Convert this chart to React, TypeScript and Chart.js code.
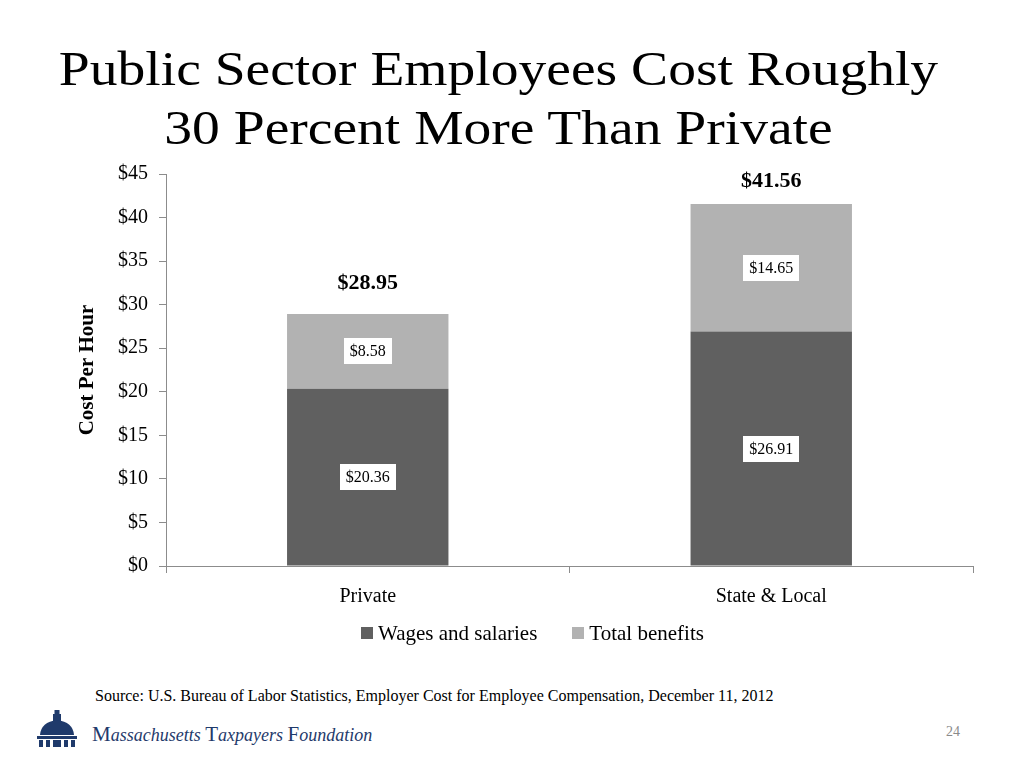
import React, { useEffect, useRef } from "react";
import { Chart, registerables } from "chart.js";

Chart.register(...registerables);

const categories = ["Private", "State & Local"];
const wagesAndSalaries = [20.36, 26.91];
const totalBenefits = [8.58, 14.65];
const totals = [28.95, 41.56];
const yMin = 0;
const yMax = 45;
const yStep = 5;

const SERIF =
  '"Palatino Linotype","Book Antiqua",Palatino,"Liberation Serif","Times New Roman",serif';
const DARK = "#606060";
const LIGHT = "#b2b2b2";
const AXIS = "#8c8c8c";
const NAVY = "#1f3a6b";

const totalOffsets = [31, 23];

const labelPlugin = {
  id: "barLabels",
  afterDatasetsDraw(chart: any) {
    const ctx = chart.ctx as CanvasRenderingContext2D;
    ctx.save();
    ctx.textAlign = "center";
    ctx.textBaseline = "middle";
    chart.data.datasets.forEach((ds: any, di: number) => {
      const meta = chart.getDatasetMeta(di);
      meta.data.forEach((bar: any, i: number) => {
        const v = ds.data[i] as number;
        const text = "$" + v.toFixed(2);
        const cy = (bar.y + bar.base) / 2;
        ctx.font = `16px ${SERIF}`;
        const w = ctx.measureText(text).width;
        ctx.fillStyle = "#ffffff";
        ctx.fillRect(Math.round(bar.x - w / 2 - 6), Math.round(cy - 13), Math.round(w + 12), 26);
        ctx.fillStyle = "#000000";
        ctx.fillText(text, bar.x, cy + 1);
      });
    });
    const topMeta = chart.getDatasetMeta(chart.data.datasets.length - 1);
    topMeta.data.forEach((bar: any, i: number) => {
      ctx.font = `bold 22px ${SERIF}`;
      ctx.fillStyle = "#000000";
      const y = chart.scales.y.getPixelForValue(totals[i]) - totalOffsets[i];
      ctx.fillText("$" + totals[i].toFixed(2), bar.x, y);
    });
    ctx.restore();
  },
};

const legendPlugin = {
  id: "customLegend",
  afterDraw(chart: any) {
    const ctx = chart.ctx as CanvasRenderingContext2D;
    const centerX = 462.5;
    const centerY = 483;
    const box = 12;
    const gapText = 5;
    const gapItem = 35;
    ctx.save();
    ctx.font = `21px ${SERIF}`;
    ctx.textBaseline = "middle";
    ctx.textAlign = "left";
    const items = chart.data.datasets.map((ds: any) => ({
      label: ds.label as string,
      color: ds.backgroundColor as string,
      w: ctx.measureText(ds.label).width,
    }));
    const total =
      items.reduce((s: number, it: any) => s + box + gapText + it.w, 0) + gapItem * (items.length - 1);
    let x = centerX - total / 2;
    items.forEach((it: any) => {
      ctx.fillStyle = it.color;
      ctx.fillRect(Math.round(x), Math.round(centerY - box / 2), box, box);
      ctx.fillStyle = "#000";
      ctx.fillText(it.label, x + box + gapText, centerY + 1);
      x += box + gapText + it.w + gapItem;
    });
    ctx.restore();
  },
};

function ChartCanvas() {
  const ref = useRef<HTMLCanvasElement | null>(null);
  useEffect(() => {
    if (!ref.current) return;
    const chart = new Chart(ref.current, {
      type: "bar",
      data: {
        labels: categories,
        datasets: [
          {
            label: "Wages and salaries",
            data: wagesAndSalaries,
            backgroundColor: DARK,
            borderWidth: 0,
            barPercentage: 0.4,
            categoryPercentage: 1.0,
          },
          {
            label: "Total benefits",
            data: totalBenefits,
            backgroundColor: LIGHT,
            borderWidth: 0,
            barPercentage: 0.4,
            categoryPercentage: 1.0,
          },
        ],
      },
      options: {
        responsive: false,
        animation: false,
        layout: { padding: { top: 24, right: 21, bottom: 49, left: 0 } },
        plugins: {
          legend: { display: false },
          tooltip: { enabled: false },
          title: { display: false },
        },
        scales: {
          x: {
            stacked: true,
            grid: {
              display: true,
              drawOnChartArea: false,
              drawTicks: true,
              tickLength: 7,
              color: AXIS,
              offset: true,
            },
            border: { display: true, color: AXIS, width: 1 },
            ticks: {
              color: "#000",
              padding: 12,
              font: { family: SERIF, size: 20 },
            },
          },
          y: {
            stacked: true,
            min: yMin,
            max: yMax,
            afterFit: (scale: any) => {
              scale.width = 96;
            },
            grid: {
              display: true,
              drawOnChartArea: false,
              drawTicks: true,
              tickLength: 7,
              color: AXIS,
            },
            border: { display: true, color: AXIS, width: 1 },
            ticks: {
              stepSize: yStep,
              color: "#000",
              padding: 11,
              font: { family: SERIF, size: 20 },
              callback: (v: any) => "$" + v,
            },
            title: {
              display: true,
              text: "Cost Per Hour",
              color: "#000",
              padding: { top: 5, bottom: 0 },
              font: { family: SERIF, size: 21, weight: "bold" },
            },
          },
        },
      },
      plugins: [labelPlugin, legendPlugin],
    });
    return () => chart.destroy();
  }, []);
  return (
    <canvas
      ref={ref}
      width={924}
      height={520}
      style={{ position: "absolute", left: 70, top: 150, width: 924, height: 520 }}
    />
  );
}

function Dome() {
  return (
    <svg width="44" height="38" viewBox="0 0 44 38" style={{ position: "absolute", left: 35, top: 710 }}>
      <g fill={NAVY}>
        <rect x="19.5" y="0" width="5" height="4" />
        <rect x="18" y="4" width="8" height="7" />
        <path d="M5 25 Q6 12 22 10 Q38 12 39 25 Z" />
        <rect x="2" y="26" width="40" height="3" />
        <rect x="4" y="30" width="4" height="7" />
        <rect x="11" y="30" width="4" height="7" />
        <rect x="18" y="30" width="8" height="7" />
        <rect x="29" y="30" width="4" height="7" />
        <rect x="36" y="30" width="4" height="7" />
      </g>
    </svg>
  );
}

export default function App() {
  const logoCap: React.CSSProperties = { fontStyle: "normal", fontSize: 21 };
  const titleLine: React.CSSProperties = {
    width: 997,
    textAlign: "center",
    transform: "scaleX(1.157)",
    transformOrigin: "498.5px 50%",
    whiteSpace: "nowrap",
  };
  return (
    <div
      style={{
        position: "fixed",
        left: 0,
        top: 0,
        width: 1024,
        height: 768,
        background: "#fff",
        fontFamily: SERIF,
        overflow: "hidden",
      }}
    >
      <div
        style={{
          position: "absolute",
          left: 0,
          top: 39,
          width: 997,
          fontSize: 48,
          lineHeight: "59px",
          color: "#000",
        }}
      >
        <div style={titleLine}>Public Sector Employees Cost Roughly</div>
        <div style={titleLine}>30 Percent More Than Private</div>
      </div>
      <ChartCanvas />
      <div
        style={{
          position: "absolute",
          left: 95,
          top: 687,
          fontSize: 16,
          color: "#000",
          whiteSpace: "nowrap",
        }}
      >
        Source: U.S. Bureau of Labor Statistics, Employer Cost for Employee Compensation, December 11, 2012
      </div>
      <Dome />
      <div
        style={{
          position: "absolute",
          left: 92,
          top: 722,
          fontSize: 18,
          color: NAVY,
          fontStyle: "italic",
          whiteSpace: "nowrap",
        }}
      >
        <span style={logoCap}>M</span>assachusetts <span style={logoCap}>T</span>axpayers{" "}
        <span style={logoCap}>F</span>oundation
      </div>
      <div
        style={{
          position: "absolute",
          left: 946,
          top: 724,
          fontSize: 14,
          color: "#8a8a8a",
        }}
      >
        24
      </div>
    </div>
  );
}
